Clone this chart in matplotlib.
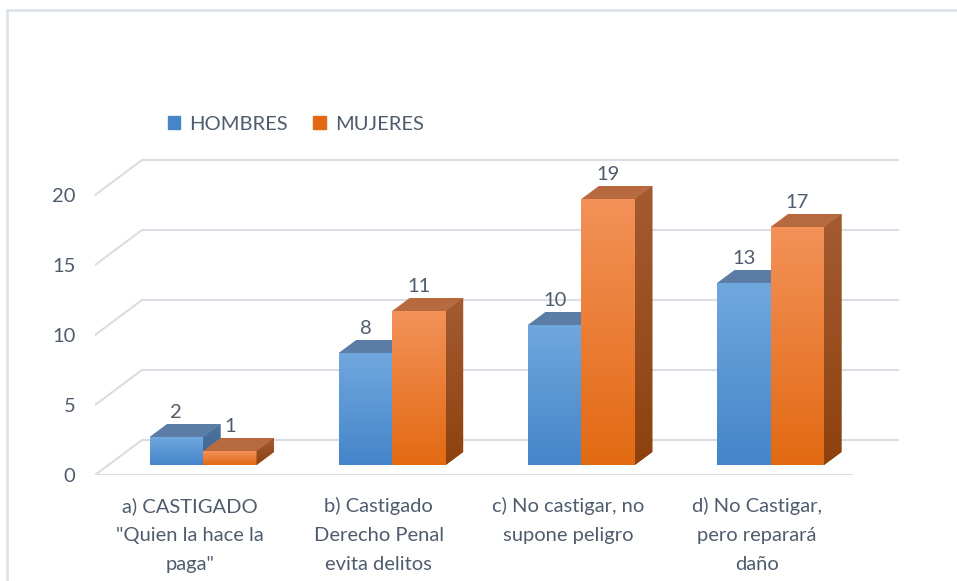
import numpy as np
import matplotlib
matplotlib.use("Agg")
import matplotlib.pyplot as plt
from matplotlib.patches import Polygon, Patch
from matplotlib.lines import Line2D
from matplotlib.colors import LinearSegmentedColormap

categories = ['a) CASTIGADO\n"Quien la hace la\npaga"',
              'b) Castigado\nDerecho Penal\nevita delitos',
              'c) No castigar, no\nsupone peligro',
              'd) No Castigar,\npero reparará\ndaño']
series = ["HOMBRES", "MUJERES"]
hombres = [2, 8, 10, 13]
mujeres = [1, 11, 19, 17]
yticks = [0, 5, 10, 15, 20]

TEXT = "#505C6E"
GRID = "#DADEE4"
# look of each series: front gradient (top, bottom), top face, side face (top, bottom)
STYLE = {
    "HOMBRES": dict(front=("#70A7DE", "#4585CA"), top="#5A7CA5", side=("#4B74A0", "#3B6592")),
    "MUJERES": dict(front=("#F39158", "#E26A13"), top="#B7693F", side=("#A45B32", "#8D420E")),
}

DX, DY = 47 / 189.25, 2.5      # oblique shift front plane -> back wall (data units)
Z0, Z1 = 10 / 35, 23 / 35      # depth of bar front / back faces
BW = 53.5 / 189.25             # width of one bar
FS = 14.5

plt.rcParams["font.family"] = ["Lato", "DejaVu Sans"]
fig = plt.figure(figsize=(9.57, 5.81), dpi=100)
ax = fig.add_axes([95 / 957, 106 / 581, 804 / 957, 350 / 581])


def gradient_fill(patch, c_top, c_bot):
    cmap = LinearSegmentedColormap.from_list("g", [c_bot, c_top])
    x0, y0, x1, y1 = patch.get_path().transformed(patch.get_patch_transform()).get_extents().extents
    im = ax.imshow(np.linspace(0, 1, 64).reshape(-1, 1), extent=(x0, x1, y0, y1), origin="lower",
                   cmap=cmap, aspect="auto", zorder=patch.get_zorder() + 0.1, interpolation="bilinear")
    im.set_clip_path(patch)


# back wall + floor gridlines
for v in yticks:
    ax.plot([0, DX, 4 + DX], [v, v + DY, v + DY], color=GRID, lw=1.5, zorder=1)
ax.plot([0, 4], [0, 0], color=GRID, lw=1.5, zorder=1)

z = 3
for i in range(len(categories)):
    for k, (name, vals) in enumerate(zip(series, [hombres, mujeres])):
        st = STYLE[name]
        v = vals[i]
        x0 = i + 0.5 - BW + k * BW + Z0 * DX
        b0 = Z0 * DY
        bar = ax.bar(x0, v, BW, bottom=b0, align="edge", color=st["front"][1], zorder=z)[0]
        gradient_fill(bar, st["front"][0], st["front"][1])
        sx, sy = (Z1 - Z0) * DX, (Z1 - Z0) * DY
        top = Polygon([(x0, b0 + v), (x0 + BW, b0 + v), (x0 + BW + sx, b0 + v + sy), (x0 + sx, b0 + v + sy)],
                      closed=True, facecolor=st["top"], edgecolor="none", zorder=z)
        ax.add_patch(top)
        side = Polygon([(x0 + BW, b0), (x0 + BW + sx, b0 + sy), (x0 + BW + sx, b0 + v + sy), (x0 + BW, b0 + v)],
                       closed=True, facecolor=st["side"][1], edgecolor="none", zorder=z)
        ax.add_patch(side)
        gradient_fill(side, st["side"][0], st["side"][1])
        ax.text(x0 + BW / 2, v + Z1 * DY + 0.85, str(v), ha="center", va="center",
                fontsize=FS, color=TEXT, zorder=20)
        z += 1

ax.set_xlim(0, 4 + 0.25)
ax.set_ylim(0, 25)
ax.set_yticks(yticks)
ax.set_xticks(np.arange(len(categories)) + 0.5)
ax.set_xticklabels(categories, linespacing=1.85)
ax.tick_params(axis="both", length=0, labelsize=FS, labelcolor=TEXT)
ax.tick_params(axis="y", pad=14)
ax.tick_params(axis="x", pad=16)
for s in ax.spines.values():
    s.set_visible(False)

handles = [Patch(color=STYLE[n]["front"][1]) for n in series]
fig.legend(handles, series, loc="center left", bbox_to_anchor=(168 / 957, 1 - 124 / 581), ncol=2,
           frameon=False, fontsize=FS, labelcolor=TEXT, handlelength=0.62, handleheight=0.62,
           handletextpad=0.45, columnspacing=1.25, borderpad=0, borderaxespad=0)

# chart area border (only top and left visible in the crop)
fig.add_artist(Line2D([7 / 957, 1], [1 - 10 / 581] * 2, transform=fig.transFigure, color="#DEE3EA", lw=2))
fig.add_artist(Line2D([7 / 957] * 2, [0, 1 - 10 / 581], transform=fig.transFigure, color="#DEE3EA", lw=2))

fig.savefig("out.png", dpi=100)
